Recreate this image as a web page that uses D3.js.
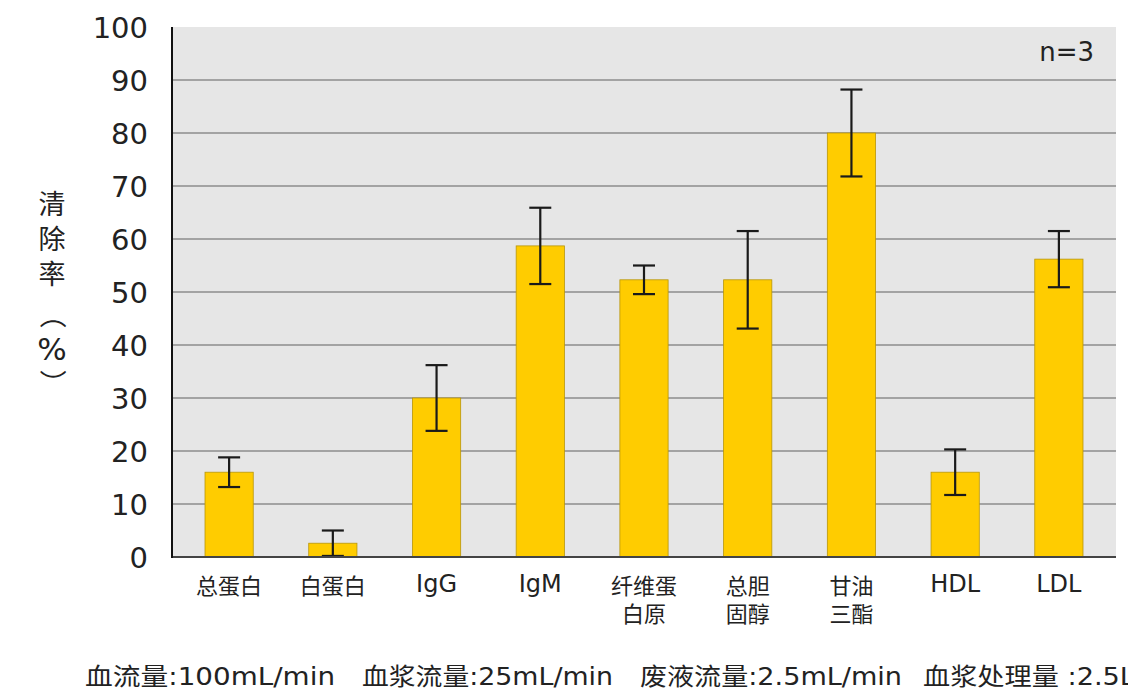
<!DOCTYPE html>
<html><head><meta charset="utf-8">
<script src="https://cdn.jsdelivr.net/npm/d3@7"></script>
<style>
html,body{margin:0;padding:0;background:#fff;overflow:hidden;}
svg{display:block;}
</style></head>
<body><svg id="c" width="1128" height="693"></svg>
<script>
const categories = [["总蛋白"],["白蛋白"],["IgG"],["IgM"],["纤维蛋","白原"],["总胆","固醇"],["甘油","三酯"],["HDL"],["LDL"]];
const values = [16, 2.6, 30, 58.7, 52.3, 52.3, 80, 16, 56.2];
const errors = [2.8, 2.4, 6.2, 7.2, 2.7, 9.2, 8.2, 4.3, 5.3];
const yTicks = [0,10,20,30,40,50,60,70,80,90,100];
const yLabelChars = ["清","除","率","（","%","）"];
const footerParts = ["血流量:100mL/min","血浆流量:25mL/min","废液流量:2.5mL/min","血浆处理量 :2.5L"];
const note = "n=3";

const svg = d3.select("#c");
const L = 172, R = 1116, T = 27, B = 557;
const y = d3.scaleLinear().domain([0,100]).range([B,T]);
const x = d3.scaleBand().domain(d3.range(categories.length)).range([177,1111]).paddingInner(0.535).paddingOuter(0.27);
const font = "'DejaVu Sans', 'Noto Sans CJK SC', sans-serif";

svg.append("rect").attr("x",L).attr("y",T).attr("width",R-L).attr("height",B-T).attr("fill","#e6e6e6");

// gridlines
svg.append("g").selectAll("line").data(yTicks.filter(d=>d>0 && d<100)).join("line")
  .attr("x1",L).attr("x2",R).attr("y1",d=>y(d)).attr("y2",d=>y(d))
  .attr("stroke","#8c8c8c").attr("stroke-width",1.6);

// y axis tick labels
const ya = svg.append("g").attr("transform",`translate(${L},0)`)
  .call(d3.axisLeft(y).tickValues(yTicks).tickSize(0).tickPadding(24));
ya.select(".domain").remove();
ya.selectAll("text").attr("font-family",font).attr("font-size",29).attr("fill","#222").attr("dy","0.36em");

// bars
const bw = x.bandwidth();
svg.append("g").selectAll("rect").data(values).join("rect")
  .attr("x",(d,i)=>x(i)).attr("y",d=>y(d)).attr("width",bw).attr("height",d=>B-y(d))
  .attr("fill","#ffcc00").attr("stroke","#b8960a").attr("stroke-width",0.8);

// error bars
const eg = svg.append("g").attr("stroke","#1a1a1a").attr("stroke-width",2.2);
values.forEach((v,i)=>{
  const cx = x(i)+bw/2;
  const hi = Math.min(100, v+errors[i]), lo = Math.max(0, v-errors[i]);
  eg.append("line").attr("x1",cx).attr("x2",cx).attr("y1",y(hi)).attr("y2",y(lo));
  eg.append("line").attr("x1",cx-11).attr("x2",cx+11).attr("y1",y(hi)).attr("y2",y(hi));
  eg.append("line").attr("x1",cx-11).attr("x2",cx+11).attr("y1",y(lo)).attr("y2",y(lo));
});

// axes lines
svg.append("line").attr("x1",L).attr("x2",R).attr("y1",B).attr("y2",B).attr("stroke","#444").attr("stroke-width",2);
svg.append("line").attr("x1",L).attr("x2",L).attr("y1",T).attr("y2",B+1).attr("stroke","#111").attr("stroke-width",2);

// x labels (one text per line)
const xl = svg.append("g");
categories.forEach((lines,i)=>{
  const cx = x(i)+bw/2;
  const latin = /^[A-Za-z]/.test(lines[0]);
  lines.forEach((s,j)=>{
    xl.append("text").attr("x",cx).attr("y",(latin?592:594)+j*28).attr("text-anchor","middle")
      .attr("font-family",font).attr("font-size",latin?24:22).attr("fill","#222").text(s);
  });
});

// y label (vertical, one glyph per text)
const yl = svg.append("g");
const yPos = [214, 249, 284, 315, 360, 383];
yLabelChars.forEach((c,i)=>{
  const isParen = c==="（"||c==="）";
  const t = yl.append("text").attr("font-family", font).attr("font-size",c==="%"?31:27)
    .attr("fill","#222").attr("text-anchor","middle").text(c);
  if(isParen) t.attr("transform",`translate(52,${yPos[i]}) rotate(90)`).attr("dy","0.35em");
  else t.attr("x",52).attr("y",yPos[i]);
});

// note
svg.append("text").attr("x",1094).attr("y",61).attr("text-anchor","end").attr("font-family",font).attr("font-size",26).attr("fill","#222").text(note);

// footer
const fx = [85, 362, 640, 923], fl = [250, 251, 262, 212];
footerParts.forEach((s,i)=>{
  svg.append("text").attr("x",fx[i]).attr("y",685).attr("font-family",font).attr("font-size",24).attr("fill","#222")
    .attr("textLength",fl[i]).attr("lengthAdjust","spacingAndGlyphs").style("white-space","pre").text(s);
});
</script></body></html>
